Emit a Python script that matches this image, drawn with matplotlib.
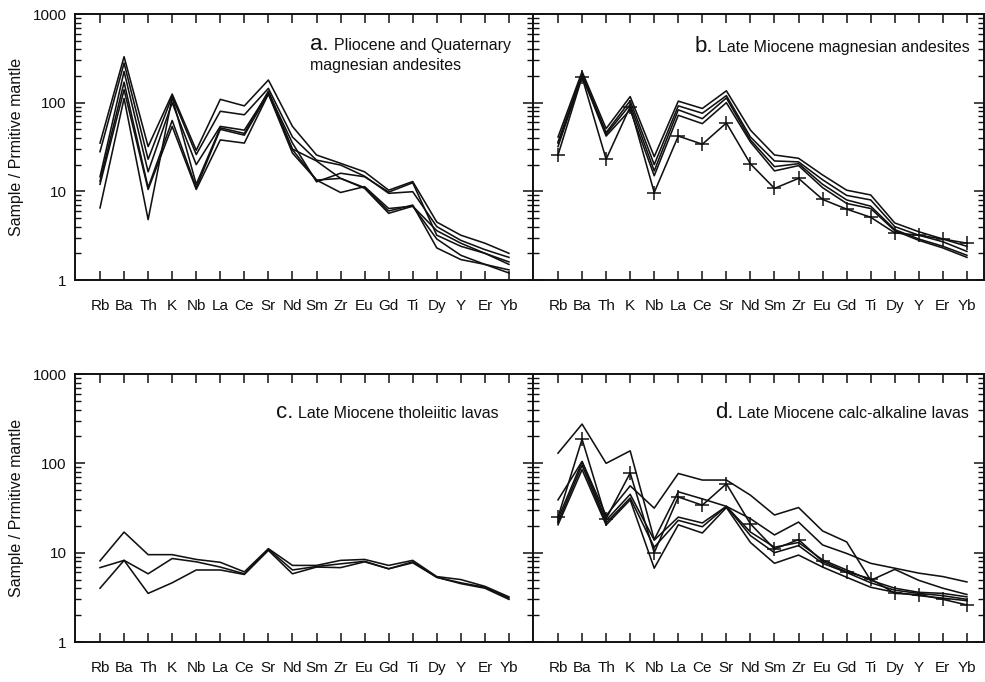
import matplotlib

matplotlib.use('Agg')
import matplotlib.pyplot as plt
import matplotlib.ticker as mticker

plt.rcParams['font.family'] = ['Liberation Sans', 'DejaVu Sans']

# ── data ─────────────────────────────────────────────────────────────────────

elements = ['Rb', 'Ba', 'Th', 'K', 'Nb', 'La', 'Ce', 'Sr', 'Nd', 'Sm', 'Zr',
            'Eu', 'Gd', 'Ti', 'Dy', 'Y', 'Er', 'Yb']

# a. Pliocene and Quaternary magnesian andesites
pq_1 = [35, 330, 32, 125, 29, 109, 92, 180, 54, 25.7, 20.7, 16.6, 10.3, 12.9, 4.5, 3.2, 2.6, 2.0]
pq_2 = [28, 280, 23, 118, 26, 80, 73, 145, 41, 22.5, 19.8, 14.8, 9.5, 9.9, 4.0, 2.8, 2.2, 1.8]
pq_3 = [14.6, 225, 16.6, 100, 20, 54, 49, 130, 35, 12.8, 16, 14.6, 9.8, 12.5, 3.2, 2.4, 2.0, 1.6]
pq_4 = [13, 170, 11, 63, 11, 50, 43, 127, 29.5, 13.4, 9.7, 11.3, 6.4, 6.8, 3.6, 2.6, 2.0, 1.5]
pq_5 = [12, 140, 10.5, 54, 10.5, 38, 35, 125, 27, 13.4, 14, 10.8, 5.65, 6.8, 2.9, 1.9, 1.5, 1.3]
pq_6 = [6.5, 112, 4.8, 115, 12, 52, 45, 135, 30, 22, 14, 11, 6.0, 7.0, 2.3, 1.7, 1.5, 1.2]

# b. Late Miocene magnesian andesites
lm_1 = [41, 224, 51, 117, 24.6, 104, 86, 136, 49, 25.7, 23.6, 15.3, 10.3, 9.1, 4.4, 3.5, 2.9, 2.4]
lm_2 = [36, 210, 46, 105, 20, 92, 76, 120, 41, 22, 21.5, 13.5, 9.0, 8.0, 4.0, 3.2, 2.7, 2.1]
lm_3 = [35, 205, 44, 95, 17, 83, 66, 113, 38, 19, 20.5, 12, 8.0, 6.8, 3.7, 2.9, 2.4, 1.9]
lm_4 = [32, 200, 42, 83, 15, 72, 58, 100, 36, 17, 19.5, 11, 7.3, 6.4, 3.6, 2.8, 2.3, 1.8]
lm_ref_b = [25.7, 194, 23, 90, 9.7, 42, 34, 59, 20.4, 10.8, 14, 8.1, 6.3, 5.1, 3.4, 3.2, 2.9, 2.6]

# c. Late Miocene tholeiitic lavas
th_1 = [8.1, 17, 9.5, 9.5, 8.4, 7.8, 6.1, 11.1, 7.2, 7.2, 8.2, 8.4, 7.2, 8.2, 5.4, 5.0, 4.2, 3.2]
th_2 = [6.8, 8.2, 5.8, 8.6, 7.9, 6.9, 5.8, 10.9, 6.4, 7.0, 7.5, 8.0, 6.6, 7.9, 5.3, 4.6, 4.1, 3.1]
th_3 = [4.0, 8.2, 3.5, 4.6, 6.4, 6.4, 5.7, 10.6, 5.8, 6.9, 6.8, 7.9, 6.6, 7.7, 5.3, 4.5, 4.0, 3.0]

# d. Late Miocene calc-alkaline lavas
ca_1 = [130, 275, 100, 138, 14, 48, 40, 33, 24, 15.8, 22, 12.2, 9.8, 7.6, 6.7, 5.9, 5.4, 4.7]
ca_2 = [39, 105, 26, 56, 31.5, 77, 65, 65, 44, 26.4, 32, 17.5, 13.2, 4.9, 6.5, 4.9, 4.0, 3.4]
ca_3 = [24, 104, 23, 45, 13.8, 25, 21.5, 33, 17, 11.5, 13, 8.3, 6.4, 4.9, 4.0, 3.6, 3.5, 3.2]
ca_4 = [22, 95, 21.5, 41, 11.5, 23, 19.5, 33, 15.5, 10, 12, 7.6, 6.0, 4.6, 3.8, 3.5, 3.3, 3.0]
ca_5 = [20.5, 85, 20.4, 39, 6.7, 20.5, 16.6, 32, 13, 7.6, 9.4, 6.9, 5.3, 4.1, 3.6, 3.3, 3.1, 2.9]
lm_ref_d = [25, 186, 24, 78, 10, 42, 34, 59, 21, 11, 14, 8.0, 6.1, 5.1, 3.5, 3.4, 3.0, 2.6]

panels = [
    ('a.', 'Pliocene and Quaternary\nmagnesian andesites', [pq_1, pq_2, pq_3, pq_4, pq_5, pq_6], None),
    ('b.', 'Late Miocene magnesian andesites', [lm_1, lm_2, lm_3, lm_4], lm_ref_b),
    ('c.', 'Late Miocene tholeiitic lavas', [th_1, th_2, th_3], None),
    ('d.', 'Late Miocene calc-alkaline lavas', [ca_1, ca_2, ca_3, ca_4, ca_5], lm_ref_d),
]

# ── layout (pixels) ──────────────────────────────────────────────────────────

W, H = 985, 682
_INK = '#111111'


def box(l, t, r, b):
    return [l / W, 1 - b / H, (r - l) / W, (b - t) / H]


def fx(x):
    return x / W


def fy(y):
    return 1 - y / H


boxes = [box(75, 14, 533, 280), box(533, 14, 984, 280),
         box(75, 374, 533, 642), box(533, 374, 984, 642)]
xlims = [(-1.04, 18.0), (-1.04, 17.71), (-1.04, 18.0), (-1.04, 17.71)]
# (letter x, text x, baseline y) in pixels
text_pos = [(310, 334, 50), (695, 718, 52), (276, 298, 418), (715, 738, 418)]

fig = plt.figure(figsize=(W / 100, H / 100), dpi=100)

for i, (letter, label, series, ref) in enumerate(panels):
    ax = fig.add_axes(boxes[i])
    x = range(len(elements))
    for s in series:
        ax.plot(x, s, color=_INK, linewidth=1.15)
    if ref is not None:
        ax.plot(x, ref, color=_INK, linewidth=1.15, marker='+', markersize=9.5,
                markeredgewidth=1.1)

    ax.set_yscale('log')
    ax.set_ylim(1, 1000)
    ax.set_xlim(*xlims[i])
    ax.set_xticks(list(x))
    ax.set_xticklabels(elements, fontsize=11)
    ax.yaxis.set_major_locator(mticker.LogLocator(base=10))
    ax.yaxis.set_minor_locator(mticker.LogLocator(base=10, subs=range(2, 10)))
    ax.yaxis.set_minor_formatter(mticker.NullFormatter())
    if i % 2 == 0:
        ax.yaxis.set_major_formatter(mticker.FuncFormatter(lambda v, _: f'{v:g}'))
        ax.tick_params(axis='y', labelsize=11, pad=6)
    else:
        ax.tick_params(axis='y', labelleft=False)

    ax.tick_params(axis='x', which='major', direction='in', top=True, bottom=True,
                   length=6.5, width=1.1, pad=14, color=_INK, labelcolor=_INK)
    ax.tick_params(axis='y', which='major', direction='in', left=True, right=True,
                   length=7, width=1.1, color=_INK, labelcolor=_INK)
    ax.tick_params(axis='y', which='minor', direction='in', left=True, right=True,
                   length=4.5, width=1.0, color=_INK)
    for sp in ax.spines.values():
        sp.set_linewidth(1.4)
        sp.set_color(_INK)

    lx, tx, by = text_pos[i]
    fig.text(fx(lx), fy(by), letter, fontsize=16, color=_INK, va='baseline')
    fig.text(fx(tx), fy(by), label.split('\n')[0], fontsize=11.5, color=_INK,
             va='baseline')
    if '\n' in label:
        fig.text(fx(lx), fy(by + 20), label.split('\n')[1], fontsize=11.5,
                 color=_INK, va='baseline')

for yc in (147, 508):
    fig.text(fx(17), fy(yc), 'Sample / Prmitive mantle', rotation=90,
             fontsize=11.5, color=_INK, ha='center', va='center')

fig.savefig('out.png', dpi=100)
